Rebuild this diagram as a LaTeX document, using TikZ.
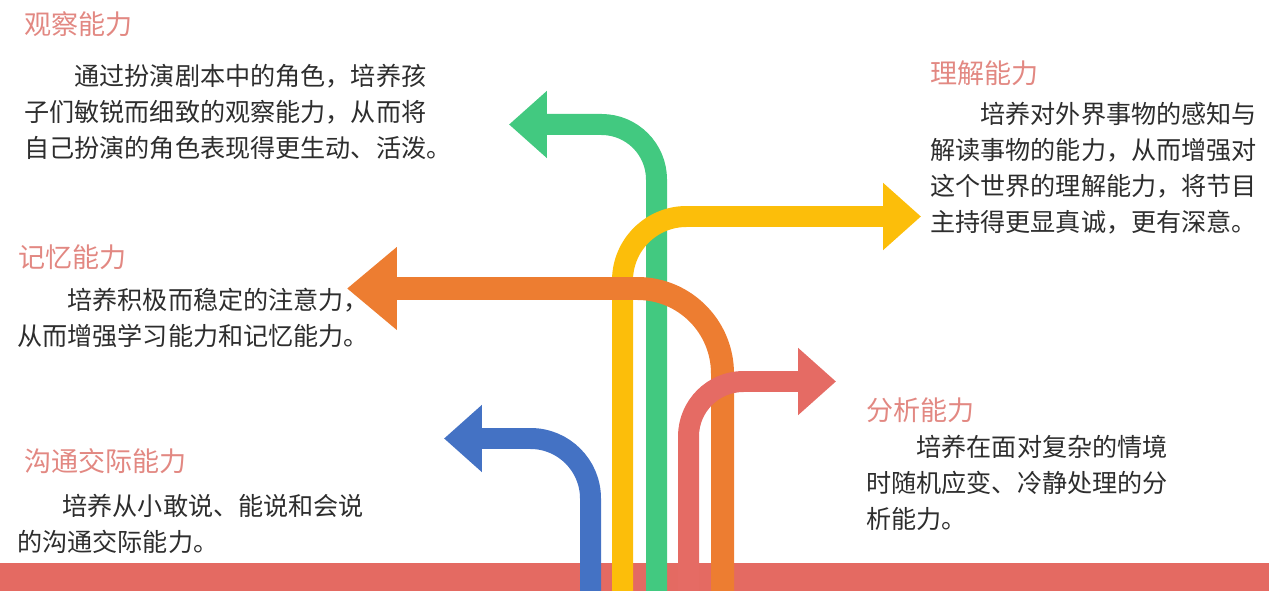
\documentclass[tikz,border=0pt]{standalone}
\usepackage{fontspec}
\setmainfont{Noto Sans CJK SC}
\usepackage{xcolor}
\usetikzlibrary{arrows.meta}
\definecolor{barred}{RGB}{228,106,98}
\definecolor{headpink}{RGB}{226,136,130}
\definecolor{bodygray}{RGB}{45,45,45}
\definecolor{roadgreen}{RGB}{66,201,128}
\definecolor{roadyellow}{RGB}{252,190,10}
\definecolor{roadorange}{RGB}{237,125,49}
\definecolor{roadred}{RGB}{229,107,100}
\definecolor{roadblue}{RGB}{68,114,196}
\tikzset{
  head/.style={anchor=base west, inner sep=0pt, text=headpink,
    font=\fontsize{15.4pt}{18pt}\selectfont},
  body/.style={anchor=base west, inner sep=0pt, text=bodygray, text width=12cm,
    align=left, font=\fontsize{14.3pt}{20.4pt}\selectfont},
  road/.style={line width=0.42cm,
    -{Triangle[length=0.76cm, width=1.3cm]}},
  bigroad/.style={line width=0.46cm,
    -{Triangle[length=1.0cm, width=1.6cm]}}
}

\begin{document}
\begin{tikzpicture}[x=0.02cm, y=-0.02cm]
  \useasboundingbox (0,0) rectangle (1269,591);
  % Ground bar
  \fill[barred] (0,563) rectangle (1269,591);

  % Road ends
  \coordinate (gstart) at (656.5,591);
  \coordinate (gtip)   at (509,124.5);
  \coordinate (ystart) at (622.5,591);
  \coordinate (ytip)   at (921,216.5);
  \coordinate (ostart) at (722.5,591);
  \coordinate (otip)   at (347,288.5);
  \coordinate (rstart) at (688.5,591);
  \coordinate (rtip)   at (836,381.5);
  \coordinate (bstart) at (590.5,591);
  \coordinate (btip)   at (444,438.5);

  % Roads (back to front)
  \draw[road, roadgreen, rounded corners=1.1cm] (gstart) |- (gtip);
  \draw[road, roadyellow, rounded corners=1.28cm] (ystart) |- (ytip);
  \draw[bigroad, roadorange, rounded corners=1.7cm] (ostart) |- (otip);
  \draw[road, roadred, rounded corners=1.1cm] (rstart) |- (rtip);
  \draw[road, roadblue, rounded corners=1.2cm] (bstart) |- (btip);

  % Observation
  \node[head] (obshead) at (24,35) {观察能力};
  \node[body] (obsbody) at (24,86)
    {\hspace*{2em}通过扮演剧本中的角色，培养孩\\
     子们敏锐而细致的观察能力，从而将\\
     自己扮演的角色表现得更生动、活泼。};

  % Understanding
  \node[head] (undhead) at (930,84) {理解能力};
  \node[body] (undbody) at (930,124)
    {\hspace*{2em}培养对外界事物的感知与\\
     解读事物的能力，从而增强对\\
     这个世界的理解能力，将节目\\
     主持得更显真诚，更有深意。};

  % Memory
  \node[head] (memhead) at (18,268) {记忆能力};
  \node[body] (membody) at (17,310)
    {\hspace*{2em}培养积极而稳定的注意力，\\
     从而增强学习能力和记忆能力。};

  % Communication
  \node[head] (comhead) at (24,472) {沟通交际能力};
  \node[body] (combody) at (17,516)
    {\hspace*{1.8em}培养从小敢说、能说和会说\\
     的沟通交际能力。};

  % Analysis
  \node[head] (anahead) at (866,420) {分析能力};
  \node[body] (anabody) at (866,457)
    {\hspace*{2em}培养在面对复杂的情境\\
     时随机应变、冷静处理的分\\
     析能力。};
\end{tikzpicture}
\end{document}
